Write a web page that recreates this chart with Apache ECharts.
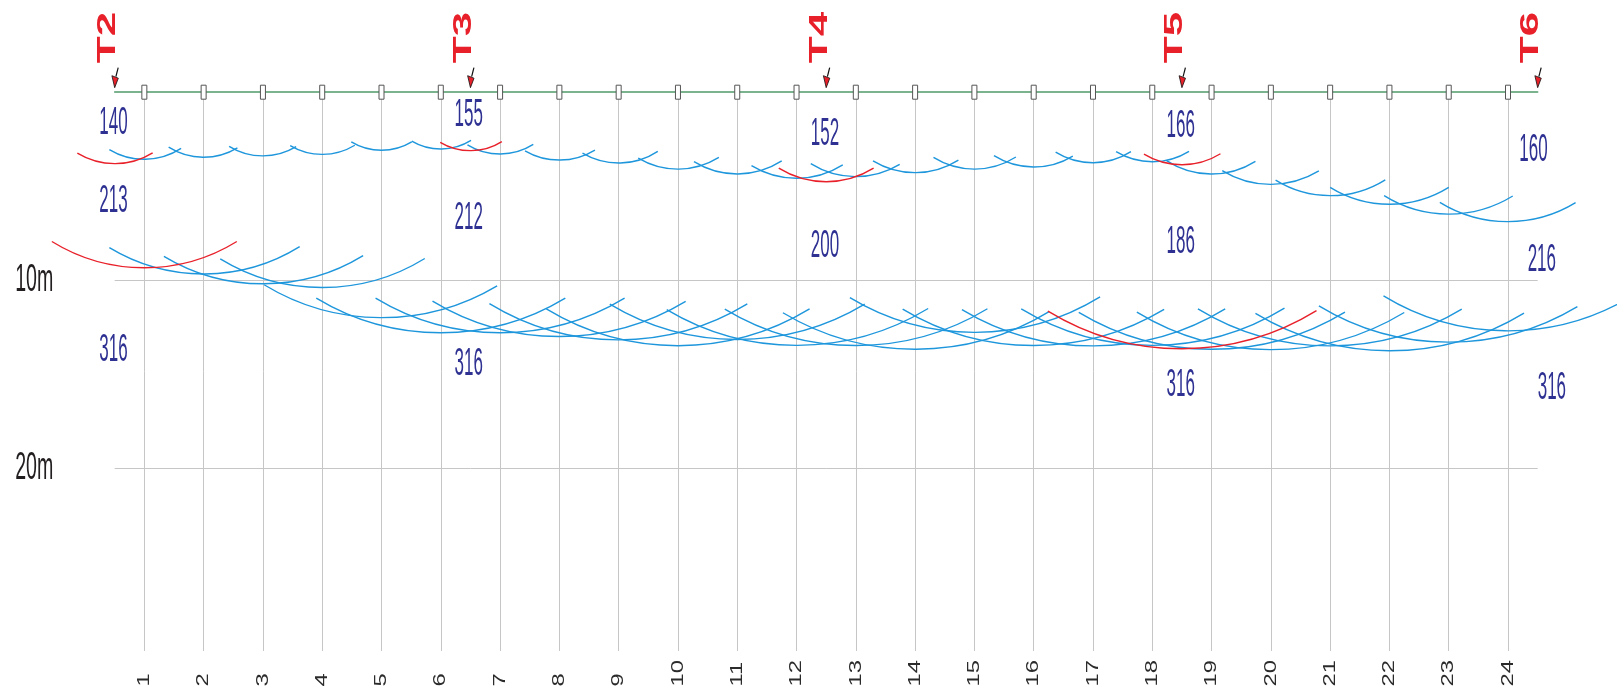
<!DOCTYPE html>
<html>
<head>
<meta charset="utf-8">
<script src="https://cdn.jsdelivr.net/npm/echarts@6/dist/echarts.min.js"></script>
<style>html,body{margin:0;padding:0;background:#fff}#chart{width:1617px;height:688px}</style>
</head>
<body>
<div id="chart"></div>
<script>
// ---------- data ----------
const geophones = [1,2,3,4,5,6,7,8,9,10,11,12,13,14,15,16,17,18,19,20,21,22,23,24];
const geophoneLabels = ['1','2','3','4','5','6','7','8','9','10','11','12','13','14','15','16','17','18','19','20','21','22','23','24'];
const shotNames = ['T2','T3','T4','T5','T6'];
const shotPositions = [0.5, 6.5, 12.5, 18.5, 24.5];
const depthTicks = [10, 20];
const depthTickLabels = ['10m', '20m'];
const depthMax = 29.7;

// first refractor arcs (blue): centre (geophone), radius (m), span from/to (geophone units)
const upperCenters = [1,2,3,4,5,6,7,8,9,10,11,12,13,14,15,16,17,18,19,20,21,22,23,24];
const upperRadii = [3.59,3.48,3.41,3.33,3.11,3.04,3.31,3.63,3.79,4.11,4.37,4.60,4.51,4.30,4.11,4.00,3.77,3.72,4.37,4.92,5.52,5.98,6.50,6.90];
const upperFrom = [0.41,1.41,2.43,3.46,4.49,5.51,6.45,7.42,8.39,9.33,10.27,11.24,12.24,13.29,14.31,15.33,16.37,17.39,18.24,19.18,20.08,21.00,21.91,22.85];
const upperTo = [1.62,2.57,3.56,4.55,5.51,6.51,7.56,8.60,9.66,10.69,11.75,12.78,13.74,14.73,15.70,16.66,17.64,18.62,19.74,20.81,21.93,23.00,24.08,25.14];

// second refractor arcs (blue)
const deepCenters = [2,3,4,5,6,7,8,9,10,11,12,13,14,15,16,17,18,19,20,21,22,23,24];
const deepRadii = [9.68,10.2,10.4,12.0,12.8,12.8,13.0,13.18,13.49,13.16,13.47,13.48,13.68,12.78,13.48,13.5,13.47,13.68,13.7,13.5,13.76,13.3,12.7];
const deepFrom = [0.41,1.33,2.28,3.02,3.9,4.9,5.86,6.82,7.78,8.85,9.81,10.79,11.77,12.9,13.79,14.79,15.79,16.76,17.74,18.77,19.74,20.81,21.9];
const deepTo = [3.62,4.69,5.73,6.95,8.1,9.1,10.13,11.17,12.22,13.15,14.22,15.22,16.26,17.12,18.2,19.23,20.23,21.25,22.25,23.22,24.27,25.17,26.0];

// shot-point arcs (red)
const redCenters = [0.5, 6.5, 12.5, 18.5, 1, 18.5];
const redRadii = [3.82, 3.13, 4.78, 3.88, 9.35, 13.65];
const redFrom = [-0.13, 5.99, 11.70, 17.86, -0.56, 16.24];
const redTo = [1.14, 7.03, 13.30, 19.15, 2.56, 20.77];

// velocity labels
const velocityValues = ['140','213','316','155','212','316','152','200','166','186','316','160','216','316'];
const velocityX = [0.48,0.48,0.48,6.47,6.47,6.47,12.48,12.48,18.48,18.48,18.48,24.43,24.57,24.74];
const velocityDepth = [1.69,5.85,13.74,1.25,6.73,14.50,2.30,8.20,1.86,8.00,15.58,3.11,8.98,15.74];

// ---------- drawing ----------
const BLUE = '#1e96dc', RED = '#e8202a', NAVY = '#2e3192';
const clamp = v => Math.max(-1, Math.min(1, v));

function arcSeries(name, centers, radii, from, to, color, z) {
  return {
    type: 'custom', name: name, coordinateSystem: 'cartesian2d', z: z, silent: true, clip: false,
    data: centers.map((c, i) => [c, radii[i]]),
    encode: {x: 0, y: 1},
    renderItem: function (params, api) {
      const i = params.dataIndex;
      const c = api.coord([centers[i], 0]);
      const b = api.coord([centers[i], radii[i]]);
      const R = b[1] - c[1];
      const l = api.coord([from[i], 0])[0] - c[0];
      const r = api.coord([to[i], 0])[0] - c[0];
      return {
        type: 'arc',
        shape: {cx: c[0], cy: c[1], r: R, startAngle: Math.acos(clamp(r / R)), endAngle: Math.acos(clamp(l / R)), clockwise: true},
        style: {stroke: color, fill: 'none', lineWidth: 1.4}
      };
    }
  };
}

const option = {
  animation: false,
  backgroundColor: '#fff',
  grid: {left: 114.7, top: 91.7, width: 1422.96, height: depthMax * 18.83, containLabel: false, outerBoundsMode: 'none'},
  xAxis: {
    type: 'value', min: 0.5, max: 24.5, position: 'top',
    axisLine: {show: true, onZero: false, lineStyle: {color: '#4f9a6a', width: 1.6}},
    axisTick: {show: false}, axisLabel: {show: false}, splitLine: {show: false}
  },
  yAxis: {
    type: 'value', min: 0, max: depthMax, inverse: true,
    axisLine: {show: false}, axisTick: {show: false}, axisLabel: {show: false}, splitLine: {show: false}
  },
  series: [
    // grid lines + geophone boxes
    {
      type: 'custom', name: 'geophones', coordinateSystem: 'cartesian2d', z: 6, silent: true, clip: false,
      data: geophones.map(g => [g, 0]), encode: {x: 0, y: 1},
      renderItem: function (params, api) {
        const p = api.coord([geophones[params.dataIndex], 0]);
        return {type: 'rect', shape: {x: p[0] - 2.5, y: p[1] - 6.5, width: 5, height: 14},
          style: {fill: '#fff', stroke: '#555', lineWidth: 1}};
      },
      markLine: {
        silent: true, symbol: ['none', 'none'], label: {show: false}, z: 1,
        lineStyle: {color: '#c6c6c6', width: 1, type: 'solid'},
        data: geophones.map(g => ({xAxis: g})).concat(depthTicks.map(d => ({yAxis: d})))
      }
    },
    arcSeries('upper', upperCenters, upperRadii, upperFrom, upperTo, BLUE, 3),
    arcSeries('deep', deepCenters, deepRadii, deepFrom, deepTo, BLUE, 3),
    arcSeries('shots', redCenters, redRadii, redFrom, redTo, RED, 4),
    // velocity labels
    {
      type: 'custom', name: 'velocities', coordinateSystem: 'cartesian2d', z: 7, silent: true, clip: false,
      data: velocityX.map((x, i) => [x, velocityDepth[i]]), encode: {x: 0, y: 1},
      renderItem: function (params, api) {
        const i = params.dataIndex;
        const p = api.coord([velocityX[i], velocityDepth[i]]);
        return {type: 'text', x: p[0], y: p[1], scaleX: 0.85, scaleY: 1.9,
          style: {text: velocityValues[i], fill: NAVY, font: '20px "Liberation Sans", Arial, sans-serif',
            textAlign: 'center', textVerticalAlign: 'middle'}};
      }
    },
    // depth labels
    {
      type: 'custom', name: 'depthLabels', coordinateSystem: 'cartesian2d', z: 7, silent: true, clip: false,
      data: depthTicks.map(d => [0.5, d]), encode: {x: 0, y: 1},
      renderItem: function (params, api) {
        const i = params.dataIndex;
        const p = api.coord([0.5, depthTicks[i]]);
        return {type: 'text', x: p[0] - 80.5, y: p[1], scaleX: 0.98, scaleY: 1.95,
          style: {text: depthTickLabels[i], fill: '#231f20', font: '20px "Liberation Sans", Arial, sans-serif',
            textAlign: 'center', textVerticalAlign: 'middle'}};
      }
    },
    // geophone numbers at bottom
    {
      type: 'custom', name: 'geophoneLabels', coordinateSystem: 'cartesian2d', z: 7, silent: true, clip: false,
      data: geophones.map(g => [g, depthMax]), encode: {x: 0, y: 1},
      renderItem: function (params, api) {
        const i = params.dataIndex;
        const p = api.coord([geophones[i], depthMax]);
        return {type: 'text', x: p[0], y: p[1] + 35.5, rotation: Math.PI / 2, scaleX: 1.4, scaleY: 1.0,
          style: {text: geophoneLabels[i], fill: '#2b2b2b', font: '17px "Liberation Sans", Arial, sans-serif',
            textAlign: 'left', textVerticalAlign: 'middle'}};
      }
    },
    // shot points: labels + arrows
    {
      type: 'custom', name: 'shotPoints', coordinateSystem: 'cartesian2d', z: 8, silent: true, clip: false,
      data: shotPositions.map(s => [s, 0]), encode: {x: 0, y: 1},
      renderItem: function (params, api) {
        const i = params.dataIndex;
        const p = api.coord([shotPositions[i], 0]);
        const x = p[0], y = p[1];
        return {type: 'group', children: [
          {type: 'text', x: x - 6.5, y: y - 28.5, rotation: Math.PI / 2, scaleX: 2.2, scaleY: 1.26,
            style: {text: shotNames[i], fill: RED, font: 'bold 20px "Liberation Sans", Arial, sans-serif',
              textAlign: 'left', textVerticalAlign: 'middle'}},
          {type: 'polyline', shape: {points: [[x + 3.5, y - 24], [x + 1.2, y - 15]]},
            style: {stroke: '#111', lineWidth: 1.2, fill: 'none'}},
          {type: 'polygon', shape: {points: [[x - 2.8, y - 16], [x + 3.6, y - 13.5], [x, y - 4]]},
            style: {fill: RED, stroke: '#111', lineWidth: 0.8}}
        ]};
      }
    }
  ]
};

const chart = echarts.init(document.getElementById('chart'), null, {renderer: 'canvas', width: 1617, height: 688});
chart.setOption(option);
</script>
</body>
</html>
